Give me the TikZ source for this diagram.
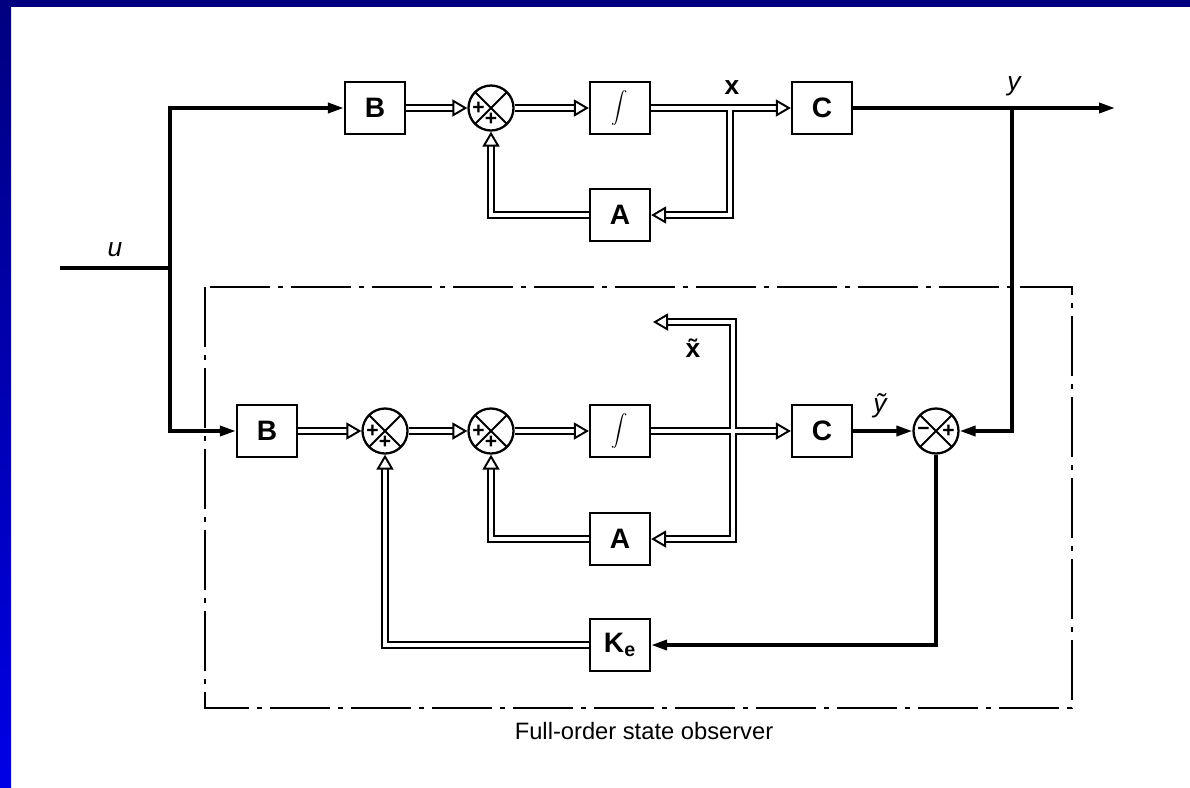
\documentclass[tikz,border=0pt]{standalone}
\usepackage{amsmath}
\usepackage{fontspec}
\setmainfont{Liberation Sans}
\usetikzlibrary{arrows.meta}

\definecolor{framenavy}{HTML}{000080}
\definecolor{frameblue}{HTML}{0000E6}

\newcommand\sumcross{\draw[line width=1.1pt] (path picture bounding box.north west) -- (path picture bounding box.south east)
  (path picture bounding box.north east) -- (path picture bounding box.south west);}

\tikzset{
  blk/.style={draw, line width=1.3pt, minimum width=12mm, minimum height=10.4mm, inner sep=0pt,
    font=\fontsize{16}{16}\selectfont\bfseries},
  intblk/.style={blk, font=\fontsize{9}{9}\selectfont},
  sgn/.style={font=\fontsize{12}{12}\selectfont\bfseries, inner sep=0pt},
  sumnode/.style={circle, draw, line width=1.3pt, minimum size=9mm, inner sep=0pt},
  sumlb/.style={sumnode, path picture={\sumcross
    \node[sgn] at ([xshift=-2.5mm]path picture bounding box.center) {+};
    \node[sgn] at ([yshift=-2.3mm]path picture bounding box.center) {+};}},
  sumlr/.style={sumnode, path picture={\sumcross
    \node[sgn] at ([xshift=-2.5mm]path picture bounding box.center) {−};
    \node[sgn] at ([xshift=2.5mm]path picture bounding box.center) {+};}},
  sig/.style={line width=2pt},
  vec/.style={double, line width=1.1pt, double distance=2.6pt},
  lbl/.style={font=\fontsize{15}{15}\selectfont, inner sep=0pt},
  obsbox/.style={line width=0.9pt, dash pattern=on 12mm off 1.6mm on 1mm off 1.6mm},
  >={Triangle[length=3.2mm,width=2mm]},
  vtip/.tip={Triangle[open,length=3mm,width=3.4mm]},
}

\begin{document}
\begin{tikzpicture}[x=0.2mm,y=-0.2mm]
\useasboundingbox (0,0) rectangle (1190,787);
\fill[framenavy] (0,0) rectangle (1190,7);
\shade[top color=framenavy, bottom color=frameblue] (0,0) rectangle (11,787);

% observer frame
\draw[obsbox] (205,287) rectangle (1072,708);
\node[lbl, font=\fontsize{13.5}{13.5}\selectfont] (obslbl) at (644,731) {Full-order state observer};

% plant
\node[blk] (B1) at (375,108) {B};
\node[sumlb] (S1) at (491,108) {};
\node[intblk] (I1) at (620,108) {$\displaystyle\int$};
\node[blk] (A1) at (620,215) {A};
\node[blk] (C1) at (822,108) {C};

% observer
\node[blk] (B2) at (267,431) {B};
\node[sumlb] (S2) at (385,431) {};
\node[sumlb] (S3) at (491,431) {};
\node[intblk] (I2) at (620,431) {$\displaystyle\int$};
\node[blk] (A2) at (620,539) {A};
\node[blk] (C2) at (822,431) {C};
\node[sumlr] (S4) at (936,431) {};
\node[blk] (K) at (620,645) {K\textsubscript{e}};

\coordinate (uin) at (60,268);
\coordinate (ubr) at (170,268);
\coordinate (xbr) at (730,108);
\coordinate (ybr) at (1012,108);
\coordinate (yout) at (1115,108);
\coordinate (xtout) at (653,322);
\coordinate (c2in) at (765,431);

% labels
\node[lbl, font=\fontsize{15}{15}\selectfont\itshape] (ulbl) at (115,250) {u};
\node[lbl, font=\fontsize{15}{15}\selectfont\bfseries] (xlbl) at (732,88) {x};
\node[lbl, font=\fontsize{15}{15}\selectfont\itshape] (ylbl) at (1014,86) {y};
\node[lbl, font=\fontsize{15}{15}\selectfont\bfseries] (xtlbl) at (693,348) {\~{x}};
\node[lbl, font=\fontsize{15}{15}\selectfont\itshape] (ytlbl) at (880,406) {\~{y}};

% scalar signals
\draw[sig] (uin) -- (ubr);
\draw[sig,<->] (B1) -| (ubr) |- (B2);
\draw[sig,->] (C1) -- (yout);
\draw[sig,->] (ybr) |- (S4);
\draw[sig,->] (C2) -- (S4);
\draw[sig,->] (S4) |- (K);

% vector signals
\draw[vec,-vtip] (B1) -- (S1);
\draw[vec,-vtip] (S1) -- (I1);
\draw[vec,vtip-vtip] (I1) -- (xbr) (A1) -| (xbr) -- (C1);
\draw[vec,-vtip] (A1) -| (S1);

\draw[vec,-vtip] (B2) -- (S2);
\draw[vec,-vtip] (S2) -- (S3);
\draw[vec,-vtip] (S3) -- (I2);
\draw[vec,vtip-vtip] (I2) -- (c2in) (xtout) -| (733,431) |- (A2);
\draw[vec,-vtip] (c2in) -- (C2);
\draw[vec,-vtip] (A2) -| (S3);
\draw[vec,-vtip] (K) -| (S2);
\end{tikzpicture}
\end{document}
